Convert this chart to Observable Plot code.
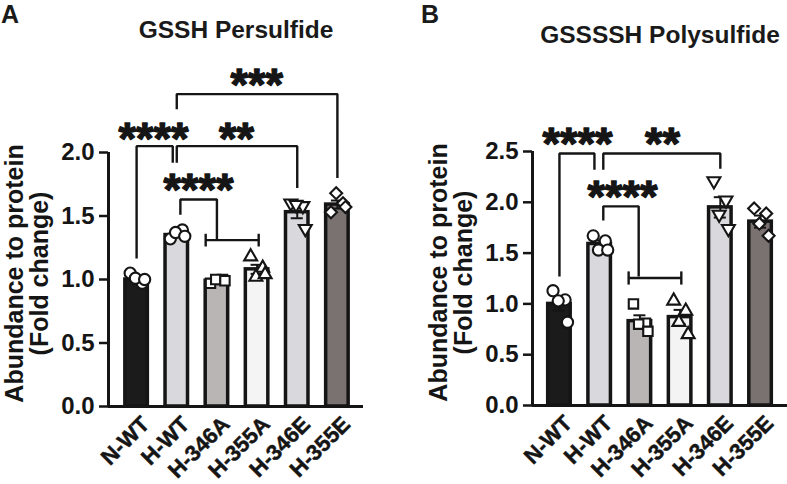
<!DOCTYPE html>
<html>
<head>
<meta charset="utf-8">
<script src="https://cdn.jsdelivr.net/npm/d3@7"></script>
<script src="https://cdn.jsdelivr.net/npm/@observablehq/plot@0.6"></script>
<style>
  html, body { margin: 0; padding: 0; background: #fff; }
  #wrap { position: relative; width: 787px; height: 484px; overflow: hidden; background: #fff;
          font-family: "Liberation Sans", Arial, Helvetica, sans-serif; font-weight: bold; color: #1a1a1a; }
  .abs { position: absolute; white-space: nowrap; line-height: 1.1; }
  .panel { position: absolute; top: 0; }
</style>
</head>
<body>
<div id="wrap">
  <div class="abs" id="letterA" style="left:1px;top:1px;font-size:25px;">A</div>
  <div class="abs" id="titleA" style="left:236px;top:17px;font-size:24.5px;transform:translateX(-50%);">GSSH Persulfide</div>
  <div class="abs" id="letterB" style="left:421px;top:1px;font-size:25px;">B</div>
  <div class="abs" id="titleB" style="left:660px;top:22px;font-size:24.5px;transform:translateX(-50%);">GSSSSH Polysulfide</div>
  <div class="panel" id="panelA" style="left:0px;"></div>
  <div class="panel" id="panelB" style="left:390px;"></div>
</div>
<script>
// ---------- data ----------
const categories = ["N-WT", "H-WT", "H-346A", "H-355A", "H-346E", "H-355E"];
const barColors = ["#1b1b1b", "#d9d8dc", "#b9b5b4", "#f4f4f4", "#d9d8dc", "#797270"];

// Panel A: GSSH Persulfide (fold change)
const gsshMeans = [1.00, 1.35, 0.99, 1.08, 1.53, 1.59];
const gsshPoints = [
  [1.05, 0.97, 1.01, 1.00],
  [1.32, 1.39, 1.37, 1.34],
  [0.97, 1.00, 1.00, 0.99],
  [1.18, 1.09, 1.02, 1.04],
  [1.60, 1.58, 1.59, 1.40],
  [1.53, 1.60, 1.68, 1.57]
];
const gsshTicks = [0, 0.5, 1.0, 1.5, 2.0];

// Panel B: GSSSSH Polysulfide (fold change)
const gssssshMeans = [1.00, 1.59, 0.83, 0.87, 1.95, 1.81];
const gssssshPoints = [
  [1.13, 1.04, 1.03, 0.82],
  [1.67, 1.62, 1.53, 1.53],
  [1.00, 0.81, 0.80, 0.73],
  [1.03, 0.93, 0.82, 0.70],
  [2.21, 2.02, 1.88, 1.74],
  [1.94, 1.89, 1.79, 1.67]
];
const gssssshTicks = [0, 0.5, 1.0, 1.5, 2.0, 2.5];

// significance brackets: polylines in (category index, value) units
const gsshBrackets = [
  [[0, 1.165], [0, 2.05], [0.9, 2.05], [0.9, 1.92]],
  [[1.0, 1.92], [1.0, 2.05], [4.0, 2.05], [4.0, 1.72]],
  [[1.0, 2.34], [1.0, 2.46], [5.0, 2.46], [5.0, 1.80]],
  [[1.09, 1.51], [1.09, 1.63], [2.0, 1.63], [2.0, 1.31]],
  [[1.72, 1.31], [3.04, 1.31]],
  [[1.72, 1.26], [1.72, 1.36]],
  [[3.04, 1.26], [3.04, 1.36]]
];
const gsshStars = [
  {x: 0.42, y: 2.19, label: "****"},
  {x: 2.49, y: 2.19, label: "**"},
  {x: 2.99, y: 2.61, label: "***"},
  {x: 1.54, y: 1.79, label: "****"}
];
const gssssshBrackets = [
  [[0, 1.27], [0, 2.48], [0.87, 2.48], [0.87, 2.32]],
  [[1.09, 2.32], [1.09, 2.48], [4.0, 2.48], [4.0, 2.33]],
  [[1.09, 1.82], [1.09, 1.96], [1.97, 1.96], [1.97, 1.27]],
  [[1.72, 1.255], [3.03, 1.255]],
  [[1.72, 1.19], [1.72, 1.32]],
  [[3.03, 1.19], [3.03, 1.32]]
];
const gssssshStars = [
  {x: 0.45, y: 2.68, label: "****"},
  {x: 2.56, y: 2.68, label: "**"},
  {x: 1.57, y: 2.15, label: "****"}
];

// ---------- drawing ----------
const FONT = '"Liberation Sans", Arial, Helvetica, sans-serif';
const INK = "#151515";
const symbolTriangleDown = {
  draw(context, size) {
    const y = -Math.sqrt(size / (Math.sqrt(3) * 3));
    context.moveTo(0, -y * 2);
    context.lineTo(-Math.sqrt(3) * y, y);
    context.lineTo(Math.sqrt(3) * y, y);
    context.closePath();
  }
};
const symbols = ["circle", "circle", "square", "triangle", symbolTriangleDown, "diamond2"];
const symbolR = [5.6, 5.6, 5.3, 4.8, 4.8, 5.4];
const spread = [-0.16, 0.14, -0.03, 0.2];

function panel({means, points, ticks, brackets, stars, width, marginLeft, marginRight, marginTop, marginBottom, xDomain}) {
  const bars = categories.map((c, i) => ({i, c, v: means[i], color: barColors[i]}));
  const errs = points.map((p, i) => {
    const m = means[i];
    const sem = d3.deviation(p) / Math.sqrt(p.length);
    return {i, lo: m - sem, hi: m + sem};
  });
  const lines = brackets.flatMap((b, k) => b.map(([x, y]) => ({k, x, y})));
  const ymax = ticks[ticks.length - 1];
  const marks = [
    Plot.rectY(bars, {x1: d => d.i - 0.28, x2: d => d.i + 0.28, y1: 0, y2: "v", fill: "color", stroke: INK, strokeWidth: 3.5}),
    Plot.ruleX(errs, {x: "i", y1: "lo", y2: "hi", stroke: INK, strokeWidth: 2}),
    Plot.ruleY(errs, {y: "lo", x1: d => d.i - 0.15, x2: d => d.i + 0.15, stroke: INK, strokeWidth: 2}),
    Plot.ruleY(errs, {y: "hi", x1: d => d.i - 0.15, x2: d => d.i + 0.15, stroke: INK, strokeWidth: 2})
  ];
  points.forEach((p, i) => {
    marks.push(Plot.dot(p.map((v, j) => ({x: i + spread[j], y: v})), {
      x: "x", y: "y", r: symbolR[i], symbol: symbols[i], fill: "white", stroke: INK, strokeWidth: 2.1
    }));
  });
  marks.push(
    Plot.line(lines, {x: "x", y: "y", z: "k", stroke: INK, strokeWidth: 2.4, strokeLinejoin: "miter", strokeLinecap: "butt"}),
    Plot.text(stars, {x: "x", y: "y", text: "label", fontSize: 45, fontWeight: "bold", fill: INK, stroke: INK, strokeWidth: 1.3, dy: 11}),
    Plot.ruleY([0], {stroke: INK, strokeWidth: 3}),
    Plot.ruleX([xDomain[0]], {y1: 0, y2: ymax, stroke: INK, strokeWidth: 3}),
    Plot.axisY(ticks, {anchor: "left", tickSize: 9, tickPadding: 5, strokeWidth: 2.5, tickFormat: d3.format(".1f"), fontSize: 24, fontWeight: "bold", label: null, fill: INK}),
    Plot.text(categories, {x: (d, i) => i, y: 0, text: d => d, rotate: -45, textAnchor: "end", lineAnchor: "top", fontSize: 22, fontWeight: "bold", fill: INK, stroke: INK, strokeWidth: 0.5, dx: 3, dy: 8}),
    Plot.text(["Abundance to protein\n(Fold change)"], {frameAnchor: "left", rotate: -90, textAnchor: "middle", lineAnchor: "middle", lineHeight: 1.0, fontSize: 25, fontWeight: "bold", fill: INK, dx: -81, dy: -6})
  );
  return Plot.plot({
    width, height: 484, marginLeft, marginRight, marginTop, marginBottom,
    x: {type: "linear", domain: xDomain, axis: null},
    y: {domain: [0, ymax]},
    style: {fontFamily: FONT, fontWeight: "bold", background: "transparent", overflow: "visible", color: INK},
    marks
  });
}

document.getElementById("panelA").appendChild(panel({
  means: gsshMeans, points: gsshPoints, ticks: gsshTicks, brackets: gsshBrackets, stars: gsshStars,
  width: 390, marginLeft: 108, marginRight: 27, marginTop: 152, marginBottom: 78, xDomain: [-0.70, 5.65]
}));
document.getElementById("panelB").appendChild(panel({
  means: gssssshMeans, points: gssssshPoints, ticks: gssssshTicks, brackets: gssssshBrackets, stars: gssssshStars,
  width: 397, marginLeft: 142, marginRight: 0, marginTop: 151, marginBottom: 79, xDomain: [-0.67, 5.67]
}));
</script>
</body>
</html>
